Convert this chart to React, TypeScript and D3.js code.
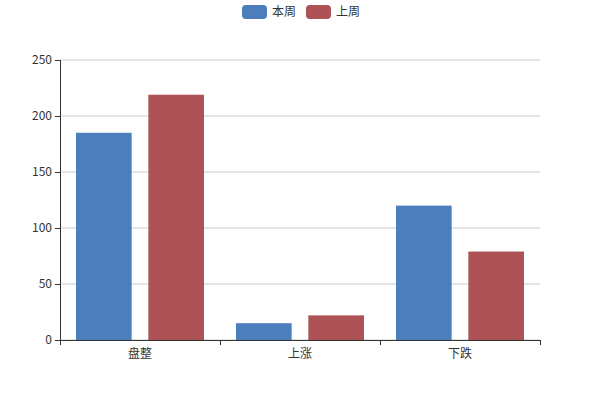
import React from "react";
import * as d3 from "d3";

const categories = ["盘整", "上涨", "下跌"];
const seriesNames = ["本周", "上周"];
const thisWeek = [185, 15, 120];
const lastWeek = [219, 22, 79];
const yTicks = [0, 50, 100, 150, 200, 250];
const colors = ["#4b7ebb", "#ad5356"];

export default function App() {
  const W = 600, H = 400;
  const left = 60, right = 540, top = 60, bottom = 340;
  const x = d3.scaleBand<string>().domain(categories).range([left, right]).paddingInner(0).paddingOuter(0);
  const y = d3.scaleLinear().domain([0, 250]).range([bottom, top]);
  const bw = x.bandwidth();
  const gapCat = bw * 0.1;
  const barW = (bw - 2 * gapCat) / 2.3;
  const barGap = barW * 0.3;
  const series = [thisWeek, lastWeek];
  const font = "'Microsoft YaHei', 'Noto Sans CJK SC', sans-serif";
  return (
    <svg width={W} height={H} style={{ position: "absolute", left: 0, top: 0 }} fontFamily={font}>
      <rect width={W} height={H} fill="#fff" />
      {yTicks.map((t) => (
        <line key={"g" + t} x1={left} x2={right} y1={y(t)} y2={y(t)} stroke="#ccc" strokeWidth={1} />
      ))}
      {series.map((vals, si) =>
        vals.map((v, i) => {
          const bx = (x(categories[i]) as number) + gapCat + si * (barW + barGap);
          return (
            <rect key={si + "-" + i} x={bx} y={y(v)} width={barW} height={y(0) - y(v)} fill={colors[si]} />
          );
        })
      )}
      <line x1={left + 0.5} x2={left + 0.5} y1={top} y2={bottom} stroke="#333" />
      <line x1={left} x2={right} y1={bottom + 0.5} y2={bottom + 0.5} stroke="#333" />
      {yTicks.map((t) => (
        <g key={"y" + t}>
          <line x1={left - 5} x2={left} y1={y(t) + 0.5} y2={y(t) + 0.5} stroke="#333" />
          <text x={left - 8} y={y(t)} dy="0.35em" textAnchor="end" fontSize={12} fill="#333">{t}</text>
        </g>
      ))}
      {[...categories.map((c) => x(c) as number), right].map((px, i) => (
        <line key={"xt" + i} x1={px + 0.5} x2={px + 0.5} y1={bottom} y2={bottom + 5} stroke="#333" />
      ))}
      {categories.map((c) => (
        <text key={"xl" + c} x={(x(c) as number) + bw / 2} y={bottom + 18} textAnchor="middle" fontSize={12} fill="#333">{c}</text>
      ))}
      {seriesNames.map((n, i) => {
        const lx = 242 + i * 64;
        return (
          <g key={"lg" + n}>
            <rect x={lx} y={5} width={25} height={14} rx={4} fill={colors[i]} />
            <text x={lx + 30} y={12} dy="0.35em" fontSize={12} fill="#333">{n}</text>
          </g>
        );
      })}
    </svg>
  );
}
